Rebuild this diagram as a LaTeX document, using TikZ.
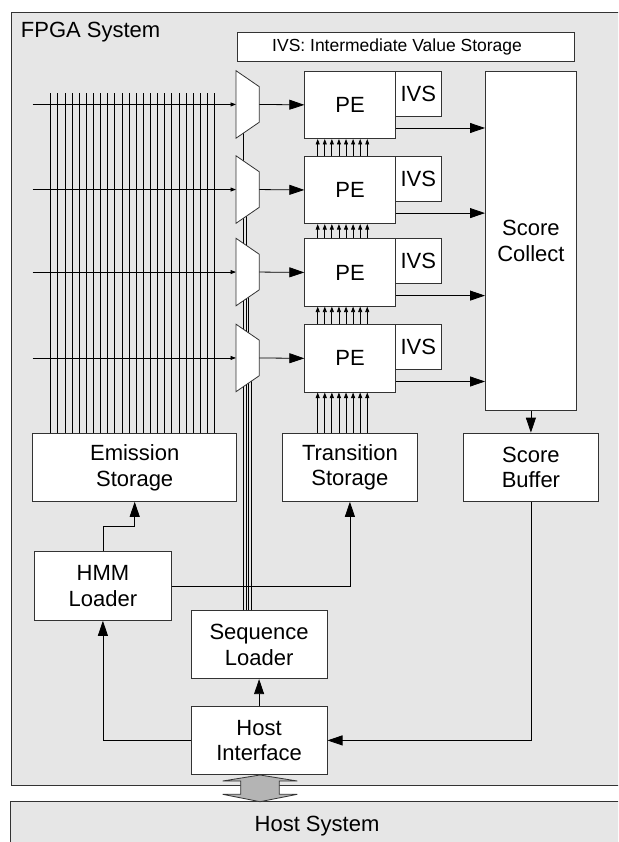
\documentclass[tikz,border=0pt]{standalone}
\usepackage{fontspec}
\setmainfont{Liberation Sans}
\usetikzlibrary{arrows.meta}
\definecolor{hmmgray}{HTML}{E6E6E6}
\definecolor{hmmdark}{HTML}{333333}
\definecolor{hmmarrow}{HTML}{B4B4B4}
\newcommand{\hmmfont}{\fontsize{22}{25.6}\selectfont}
\newcommand{\hmmsmall}{\fontsize{17.5}{21}\selectfont}

\begin{document}
\begin{tikzpicture}[x=1pt,y=-1pt,
  blk/.style={draw=hmmdark,fill=white,line width=0.8pt,inner sep=0pt,align=center,font=\hmmfont,anchor=north west},
  wire/.style={draw=black,line width=0.8pt},
  bigarr/.style={wire,-{Triangle[length=15pt,width=10pt]}},
  smallarr/.style={wire,-{Triangle[length=5.5pt,width=4pt]}}]
\useasboundingbox (0,0) rectangle (618,842);
\clip (0,0) rectangle (618,842); %crops at the page edge
\filldraw[fill=hmmgray,draw=hmmdark,line width=0.8pt] (11,12.7) rectangle (630,785); %FPGA system
\filldraw[fill=hmmgray,draw=hmmdark,line width=0.8pt] (10,801.7) rectangle (630,860); %Host system
\node[anchor=base west,font=\hmmfont,inner sep=0pt] (fpgatitle) at (20.7,37.3) {FPGA System};
\node[anchor=base,font=\hmmfont,inner sep=0pt] (hosttitle) at (317,831.7) {Host System};
\node[blk,minimum width=336.7,minimum height=29.3,font=\hmmsmall] (ivskey) at (237.3,31.7) {IVS: Intermediate Value Storage\hspace{18pt}};
% storage, loaders and interface
\node[blk,minimum width=204,minimum height=67.7] (emis) at (32.3,433.3) {Emission\\Storage};
\node[blk,minimum width=135.6,minimum height=68.3] (trans) at (281.7,432.7) {Transition\\Storage};
\node[blk,minimum width=135.6,minimum height=68.3] (sbuf) at (462.7,432.7) {Score\\Buffer};
\node[blk,minimum width=91,minimum height=339.3] (sc) at (485,70.7) {Score\\Collect};
\node[blk,minimum width=136.4,minimum height=68.7] (hmm) at (34.3,551.3) {HMM\\Loader};
\node[blk,minimum width=136,minimum height=68] (seq) at (190.7,610.3) {Sequence\\Loader};
\node[blk,minimum width=136,minimum height=68.6] (host) at (190.7,705.7) {Host\\Interface};
% processing elements
\foreach \i/\t in {1/70.7,2/155.8,3/238.3,4/324.2}{
  \node[blk,minimum width=90.7,minimum height=67.5] (pe\i) at (304.3,\t) {PE};
  \node[blk,minimum width=45.7,minimum height=45] (ivs\i) at (395,\t) {IVS};
  \coordinate (muxin\i) at (236,\t+33.75);
  \coordinate (muxout\i) at (259.3,\t+33.75);
  \coordinate (inl\i) at (32.7,\t+33.75);
}
% emission bus
\coordinate (etop) at (0,93);
\foreach \k in {0,...,23}{
  \path (emis.north west) ++({18.4+7.12*\k},0) coordinate (eb);
  \draw[wire,line width=0.7pt] (eb) -- (eb |- etop);
}
\foreach \i in {1,...,4} \draw[smallarr] (inl\i) -- (muxin\i); %inputs to the muxes
% sequence lines
\foreach \k in {1,...,4}{
  \path (seq.north west) ++({52.3+2.8*(\k-1)},0) coordinate (sq);
  \draw[wire,line width=0.6pt] (sq) -- (sq |- muxin\k);
}
% muxes
\foreach \i/\t in {1/70.7,2/155.8,3/238.3,4/324.2}{
  \filldraw[draw=hmmdark,fill=white,line width=0.8pt] (236,\t) -- (259.3,\t+16) -- (259.3,\t+51.5) -- (236,\t+67.5) -- cycle;
  \draw[bigarr] (muxout\i) -- (pe\i.west);
  \path ([yshift=11]pe\i.south east) coordinate (po\i);
  \draw[bigarr] (po\i) -- (po\i -| sc.west);
}
% transition bus
\foreach \j/\i in {1/2,2/3,3/4}{
  \foreach \k in {0,...,7}{
    \path (pe\j.south west) ++({13.4+7.08*\k},0) coordinate (tt);
    \draw[smallarr] (tt |- pe\i.north) -- (tt);
  }
}
\foreach \k in {0,...,7}{
  \path (pe4.south west) ++({13.4+7.08*\k},0) coordinate (tt);
  \draw[smallarr] (tt |- trans.north) -- (tt);
}
\draw[bigarr] (sc.south) -- (sbuf.north);
\draw[bigarr] (hmm.north) -- ++(0,-25.3) -| (emis.south);
\draw[bigarr] (hmm.east) -| (trans.south);
\draw[bigarr] (host.west) -| (hmm.south);
\draw[bigarr] (host.north) -- (seq.south);
\draw[bigarr] (sbuf.south) |- (host.east);
% host link
\filldraw[fill=hmmarrow,draw=hmmdark,line width=0.8pt] (260,775) -- (297.3,781) -- (279.3,781) -- (279.3,794.3) -- (297.3,794.3) -- (260,801.7) -- (222.7,794.3) -- (240.7,794.3) -- (240.7,781) -- (222.7,781) -- cycle;
\end{tikzpicture}
\end{document}
